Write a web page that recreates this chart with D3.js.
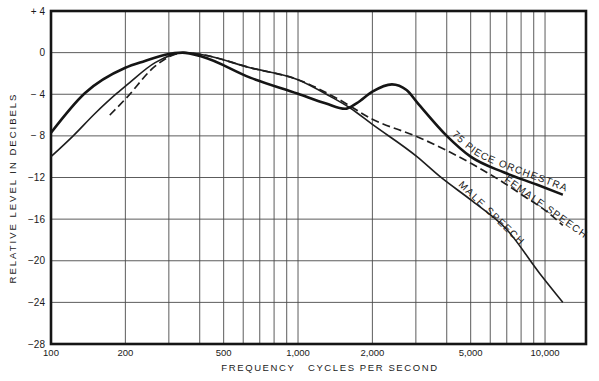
<!DOCTYPE html>
<html>
<head>
<meta charset="utf-8">
<script src="https://cdn.jsdelivr.net/npm/d3@7"></script>
<style>
  body { margin: 0; background: #fff; }
  svg text { font-family: "Liberation Sans", Arial, sans-serif; fill: #1a1a1a; }
</style>
</head>
<body>
<div id="chart"></div>
<script>
// --- data: [frequency Hz, relative level dB] ---
const orchestra = [
  [100, -7.7], [137, -3.9], [200, -1.45], [240, -0.8], [290, -0.2], [340, 0],
  [410, -0.4], [640, -2.4], [1000, -3.95], [1300, -4.9], [1550, -5.4],
  [1730, -4.85], [2000, -3.75], [2400, -3.05], [2750, -3.6], [3050, -4.85],
  [4000, -8.0], [5000, -10.0], [6800, -11.5], [9300, -12.7], [11800, -13.65]
];
const maleSpeech = [
  [100, -10], [123, -8], [150, -5.9], [185, -3.9], [203, -3.1], [264, -0.96],
  [345, 0], [410, -0.2], [640, -1.45], [1000, -2.6], [1350, -4.2], [1620, -5.3],
  [2000, -6.9], [3030, -10.0], [3750, -11.9], [5100, -14.3], [7000, -17.0],
  [9500, -21.2], [11800, -24.0]
];
const femaleSpeech = [
  [173, -6.0], [203, -4.3], [264, -1.3], [345, 0], [410, -0.2], [640, -1.45],
  [1000, -2.6], [1440, -4.4], [2000, -6.4], [3050, -8.1], [4000, -9.4],
  [5200, -10.85], [6800, -12.5], [8100, -13.7], [10200, -15.3], [11800, -16.6]
];

const freqTicks = [100, 200, 500, 1000, 2000, 5000, 10000];
const freqTickLabels = ["100", "200", "500", "1,000", "2,000", "5,000", "10,000"];
const freqGrid = [200, 300, 400, 500, 600, 700, 800, 900, 1000,
                  2000, 3000, 4000, 5000, 6000, 7000, 8000, 9000, 10000];
const dbTicks = [4, 0, -4, -8, -12, -16, -20, -24, -28];
const dbTickLabels = ["+ 4", "0", "\u2212 4", "\u2212 8", "\u221212", "\u221216", "\u221220", "\u221224", "\u221228"];
const freqDomain = [100, 14650];
const dbDomain = [-28, 4];

const width = 599, height = 381;
const margin = { top: 11, right: 13, bottom: 37, left: 51 };

const svg = d3.select("#chart").append("svg")
  .attr("width", width)
  .attr("height", height);

const x = d3.scaleLog().domain(freqDomain).range([margin.left, width - margin.right]);
const y = d3.scaleLinear().domain(dbDomain).range([height - margin.bottom, margin.top]);

// grid
svg.append("g")
  .selectAll("line")
  .data(freqGrid)
  .join("line")
  .attr("x1", d => x(d)).attr("x2", d => x(d))
  .attr("y1", y(dbDomain[0])).attr("y2", y(dbDomain[1]))
  .attr("stroke", "#4a4a4a")
  .attr("stroke-width", 0.9);

svg.append("g")
  .selectAll("line")
  .data(dbTicks)
  .join("line")
  .attr("x1", x(freqDomain[0])).attr("x2", x(freqDomain[1]))
  .attr("y1", d => y(d)).attr("y2", d => y(d))
  .attr("stroke", "#4a4a4a")
  .attr("stroke-width", 0.9);

// frame
svg.append("rect")
  .attr("x", x(freqDomain[0]))
  .attr("y", y(dbDomain[1]))
  .attr("width", x(freqDomain[1]) - x(freqDomain[0]))
  .attr("height", y(dbDomain[0]) - y(dbDomain[1]))
  .attr("fill", "none")
  .attr("stroke", "#151515")
  .attr("stroke-width", 2.6);

// tick labels
svg.append("g")
  .selectAll("text")
  .data(dbTicks)
  .join("text")
  .attr("x", x(freqDomain[0]) - 6)
  .attr("y", d => y(d))
  .attr("dy", "0.35em")
  .attr("text-anchor", "end")
  .attr("font-size", 10)
  .text((d, i) => dbTickLabels[i]);

svg.append("g")
  .selectAll("text")
  .data(freqTicks)
  .join("text")
  .attr("x", d => x(d))
  .attr("y", y(dbDomain[0]) + 12)
  .attr("text-anchor", "middle")
  .attr("font-size", 9.5)
  .text((d, i) => freqTickLabels[i]);

// axis titles
svg.append("text")
  .attr("x", 330)
  .attr("y", 371)
  .attr("text-anchor", "middle")
  .attr("font-size", 9.5)
  .attr("letter-spacing", 1.6)
  .style("white-space", "pre")
  .text("FREQUENCY   CYCLES PER SECOND");

svg.append("text")
  .attr("transform", "translate(16,188) rotate(-90)")
  .attr("text-anchor", "middle")
  .attr("font-size", 9.5)
  .attr("letter-spacing", 2)
  .text("RELATIVE  LEVEL  IN  DECIBELS");

// curves
const line = d3.line()
  .x(d => x(d[0]))
  .y(d => y(d[1]))
  .curve(d3.curveMonotoneX);

svg.append("path")
  .datum(maleSpeech)
  .attr("d", line)
  .attr("fill", "none")
  .attr("stroke", "#1e1e1e")
  .attr("stroke-width", 1.6);

svg.append("path")
  .datum(femaleSpeech)
  .attr("d", line)
  .attr("fill", "none")
  .attr("stroke", "#1e1e1e")
  .attr("stroke-width", 1.7)
  .attr("stroke-dasharray", "8,4");

svg.append("path")
  .datum(orchestra)
  .attr("d", line)
  .attr("fill", "none")
  .attr("stroke", "#151515")
  .attr("stroke-width", 2.6);

// curve labels
function dbAt(series, f) {
  const lf = Math.log10(f);
  for (let i = 1; i < series.length; i++) {
    const a = series[i - 1], b = series[i];
    if (f <= b[0] || i === series.length - 1) {
      const t = (lf - Math.log10(a[0])) / (Math.log10(b[0]) - Math.log10(a[0]));
      return a[1] + t * (b[1] - a[1]);
    }
  }
}

function slantLabel(series, f, f2, text, dy, spacing) {
  const x0 = x(f), y0 = y(dbAt(series, f));
  const x1 = x(f2), y1 = y(dbAt(series, f2));
  const angle = Math.atan2(y1 - y0, x1 - x0) * 180 / Math.PI;
  svg.append("text")
    .attr("transform", `translate(${x0},${y0}) rotate(${angle})`)
    .attr("dy", dy)
    .attr("font-size", 10)
    .attr("letter-spacing", spacing)
    .text(text);
}

slantLabel(maleSpeech, 4330, 8660, "MALE SPEECH", -4, 1.5);
slantLabel(femaleSpeech, 6750, 11500, "FEMALE SPEECH", -1.5, 1.2);

svg.append("path")
  .datum(orchestra.filter(d => d[0] >= 4000))
  .attr("id", "orch-label")
  .attr("d", line)
  .attr("fill", "none")
  .attr("stroke", "none");

svg.append("text")
  .attr("font-size", 10)
  .attr("letter-spacing", 1.2)
  .attr("dy", -4)
  .append("textPath")
  .attr("href", "#orch-label")
  .attr("startOffset", 3)
  .text("75 PIECE ORCHESTRA");
</script>
</body>
</html>
